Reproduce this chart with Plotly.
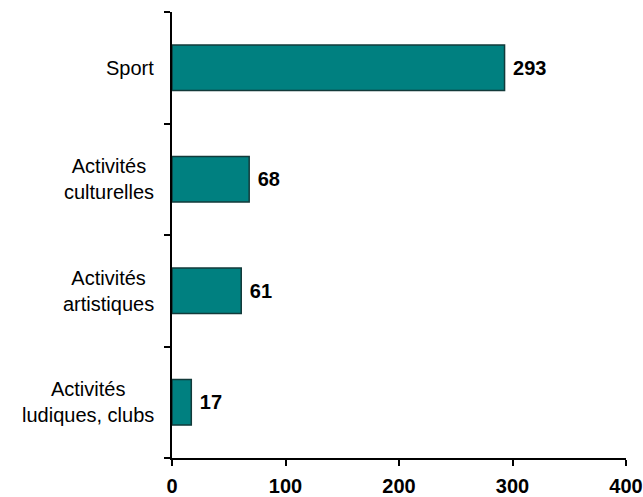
import plotly.graph_objects as go

categories = ["Activités<br>ludiques, clubs", "Activités<br>artistiques", "Activités<br>culturelles", "Sport"]
values = [17, 61, 68, 293]
x_ticks = [0, 100, 200, 300, 400]

FONT = "Arial, Liberation Sans, sans-serif"

fig = go.Figure(go.Bar(
    y=categories,
    x=values,
    orientation="h",
    width=0.41,
    marker=dict(color="#008080", line=dict(color="#123a3a", width=1.5)),
    text=[str(v) for v in values],
    textposition="outside",
    textfont=dict(family=FONT, size=20, color="black"),
    texttemplate=" <b>%{text}</b>",
    cliponaxis=False,
))

for c in categories:
    fig.add_annotation(
        x=0, xref="paper", y=c, yref="y",
        text=c, showarrow=False,
        xanchor="right", xshift=-16, align="center",
        font=dict(family=FONT, size=20, color="black"),
    )

fig.update_layout(
    width=643, height=497,
    margin=dict(l=172, r=17, t=12, b=39),
    plot_bgcolor="white", paper_bgcolor="white",
    showlegend=False,
    font=dict(family=FONT, size=20, color="black"),
)
fig.update_xaxes(
    range=[0, 400], tickvals=x_ticks,
    ticktext=[f"<b>{t}</b>" for t in x_ticks],
    showgrid=False, zeroline=False, automargin=False,
    showline=True, linecolor="black", linewidth=2,
    ticks="outside", ticklen=6, tickwidth=2, tickcolor="black",
    ticklabelstandoff=3,
    tickfont=dict(family=FONT, size=20),
)
fig.update_yaxes(
    showgrid=False, zeroline=False, automargin=False,
    showline=True, linecolor="black", linewidth=2,
    ticks="outside", ticklen=6, tickwidth=2, tickcolor="black",
    tickson="boundaries",
    showticklabels=False,
)

fig.write_html(
    "out.html",
    config={"displayModeBar": False},
    post_script="document.body.style.margin='0';document.body.style.overflow='hidden';",
)
